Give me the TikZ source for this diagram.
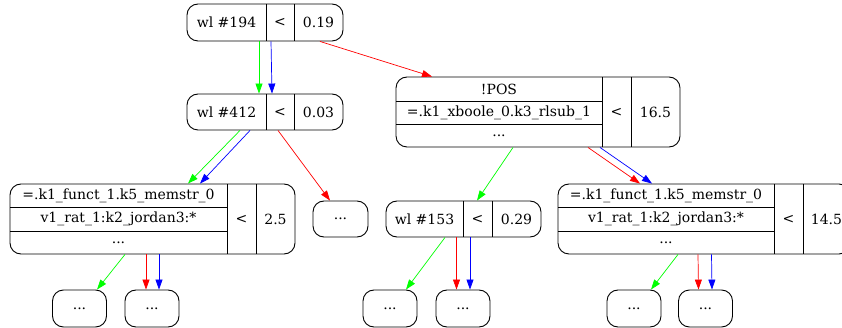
\documentclass[tikz,border=0pt]{standalone}
\usepackage{fontspec}
\setmainfont{DejaVu Serif}
\usetikzlibrary{arrows.meta,fit}

\begin{document}
\begin{tikzpicture}[x=1pt, y=-1pt, font=\fontsize{14}{16}\selectfont]
            \useasboundingbox (0,0) rectangle (842,328);
            \tikzset{
                rec/.style={draw, rounded corners=11pt, inner sep=0pt, line width=0.9pt},
                fld/.style={inner sep=0pt, outer sep=0pt},
                leaf/.style={rec, minimum width=54, minimum height=37},
                div/.style={line width=0.9pt}
            }

            % wl #194
            \node[fld, minimum width=79, minimum height=37] (a1) at (226.5,22.5) {wl \#194};
            \node[fld, minimum width=28, minimum height=37] (a2) at (280,22.5) {<};
            \node[fld, minimum width=49, minimum height=37] (a3) at (318.5,22.5) {0.19};
            \node[rec, fit=(a1)(a3)] (n194) {};
            \draw[div] (a1.north east) -- (a1.south east) (a2.north east) -- (a2.south east);

            % wl #412
            \node[fld, minimum width=79, minimum height=36] (b1) at (226.5,112) {wl \#412};
            \node[fld, minimum width=28, minimum height=36] (b2) at (280,112) {<};
            \node[fld, minimum width=49, minimum height=36] (b3) at (318.5,112) {0.03};
            \node[rec, fit=(b1)(b3)] (n412) {};
            \draw[div] (b1.north east) -- (b1.south east) (b2.north east) -- (b2.south east);

            % !POS
            \node[fld, minimum width=206, minimum height=24] (c1) at (499,89) {!POS};
            \node[fld, minimum width=206, minimum height=23] (c2) at (499,112.5) {=.k1\_xboole\_0.k3\_rlsub\_1};
            \node[fld, minimum width=206, minimum height=23] (c3) at (499,135.5) {...};
            \node[fld, minimum width=29, minimum height=70] (c4) at (616.5,112) {<};
            \node[fld, minimum width=49, minimum height=70] (c5) at (655.5,112) {16.5};
            \node[rec, fit=(c1)(c5)] (npos) {};
            \draw[div] (c1.south west) -- (c1.south east) (c2.south west) -- (c2.south east);
            \draw[div] (c4.north west) -- (c4.south west) (c4.north east) -- (c4.south east);

            % memstr left
            \node[fld, minimum width=217, minimum height=23] (d1) at (118.5,195.5) {=.k1\_funct\_1.k5\_memstr\_0};
            \node[fld, minimum width=217, minimum height=24] (d2) at (118.5,219) {v1\_rat\_1:k2\_jordan3:*};
            \node[fld, minimum width=217, minimum height=23] (d3) at (118.5,242.5) {...};
            \node[fld, minimum width=29, minimum height=70] (d4) at (241.5,219) {<};
            \node[fld, minimum width=39, minimum height=70] (d5) at (275.5,219) {2.5};
            \node[rec, fit=(d1)(d5)] (nmem1) {};
            \draw[div] (d1.south west) -- (d1.south east) (d2.south west) -- (d2.south east);
            \draw[div] (d4.north west) -- (d4.south west) (d4.north east) -- (d4.south east);

            % plain ...
            \node[rec, minimum width=55, minimum height=36] (ndots) at (340.5,219) {...};

            % wl #153
            \node[fld, minimum width=77, minimum height=36] (f1) at (424.5,219) {wl \#153};
            \node[fld, minimum width=29, minimum height=36] (f2) at (477.5,219) {<};
            \node[fld, minimum width=49, minimum height=36] (f3) at (516.5,219) {0.29};
            \node[rec, fit=(f1)(f3)] (n153) {};
            \draw[div] (f1.north east) -- (f1.south east) (f2.north east) -- (f2.south east);

            % memstr right
            \node[fld, minimum width=216, minimum height=23] (g1) at (666,195.5) {=.k1\_funct\_1.k5\_memstr\_0};
            \node[fld, minimum width=216, minimum height=24] (g2) at (666,219) {v1\_rat\_1:k2\_jordan3:*};
            \node[fld, minimum width=216, minimum height=23] (g3) at (666,242.5) {...};
            \node[fld, minimum width=29, minimum height=70] (g4) at (788.5,219) {<};
            \node[fld, minimum width=47, minimum height=70] (g5) at (826.5,219) {14.5};
            \node[rec, fit=(g1)(g5)] (nmem2) {};
            \draw[div] (g1.south west) -- (g1.south east) (g2.south west) -- (g2.south east);
            \draw[div] (g4.north west) -- (g4.south west) (g4.north east) -- (g4.south east);

            % leaves
            \node[leaf] (l1) at (79.5,308.5) {...};
            \node[leaf] (l2) at (152,308.5) {...};
            \node[leaf] (l3) at (390,308.5) {...};
            \node[leaf] (l4) at (463,308.5) {...};
            \node[leaf] (l5) at (634,308.5) {...};
            \node[leaf] (l6) at (705.5,308.5) {...};

            \begin{scope}[every edge/.style={draw, line width=0.7pt, -{Triangle[length=10pt, width=7pt]}}]
                \path ([xshift=-6]n194.south) edge[draw=green] ([xshift=-6]n412.north);
                \path ([xshift=6]n194.south) edge[draw=blue] ([xshift=7]n412.north);
                \path ([xshift=55]n194.south) edge[draw=red] ([xshift=-106]npos.north);
                \path ([xshift=-25]n412.south) edge[draw=green] ([xshift=35.5]nmem1.north);
                \path ([xshift=-15]n412.south) edge[draw=blue] ([xshift=47.5]nmem1.north);
                \path ([xshift=13]n412.south) edge[draw=red] ([xshift=-10.5]ndots.north);
                \path ([xshift=-25]npos.south) edge[draw=green] ([xshift=13.5]n153.north);
                \path ([xshift=50]npos.south) edge[draw=red] ([xshift=-64]nmem2.north);
                \path ([xshift=62]npos.south) edge[draw=blue] ([xshift=-52]nmem2.north);
                \path ([xshift=-27.5]nmem1.south) edge[draw=green] ([xshift=17.5]l1.north);
                \path ([xshift=-6.5]nmem1.south) edge[draw=red] ([xshift=-6]l2.north);
                \path ([xshift=6.5]nmem1.south) edge[draw=blue] ([xshift=7]l2.north);
                \path ([xshift=-18.5]n153.south) edge[draw=green] ([xshift=16]l3.north);
                \path ([xshift=-7]n153.south) edge[draw=red] ([xshift=-6.5]l4.north);
                \path ([xshift=6.5]n153.south) edge[draw=blue] ([xshift=7]l4.north);
                \path ([xshift=-26]nmem2.south) edge[draw=green] ([xshift=17]l5.north);
                \path ([xshift=-6]nmem2.south) edge[draw=red] ([xshift=-7]l6.north);
                \path ([xshift=7.5]nmem2.south) edge[draw=blue] ([xshift=6.5]l6.north);
            \end{scope}
        \end{tikzpicture}
\end{document}
